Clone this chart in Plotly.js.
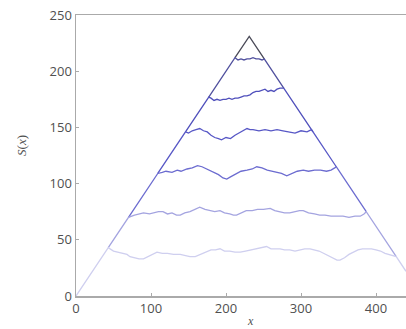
<!DOCTYPE html>
<html><head><meta charset="utf-8">
<script src="https://cdn.plot.ly/plotly-3.0.1.min.js"></script>
<style>html,body{margin:0;padding:0;background:#fff}#chart{width:406px;height:329px}</style>
</head><body><div id="chart"></div>
<script>
// Outer triangle (start, peak, end)
const triangleX = [0, 231, 440];
const triangleY = [0, 231, 22];

// Plateau levels (top -> bottom); first/last points lie on the triangle edges
const level1X = [212, 216, 220, 224, 228, 232, 236, 240, 244, 248, 251];
const level1Y = [212, 210, 211, 210, 211, 211, 212, 211, 211, 210, 211];

const level2X = [177, 180, 184, 188, 192, 196, 200, 204, 208, 212, 216, 220, 224, 228, 232, 236, 240, 244, 248, 252, 256, 260, 264, 268, 272, 277];
const level2Y = [177, 176, 174, 175, 174, 175, 175, 176, 175, 176, 176, 177, 178, 178, 179, 181, 182, 182, 183, 184, 182, 183, 182, 184, 185, 185];

const level3X = [146, 150, 155, 160, 165, 170, 175, 180, 185, 190, 194, 200, 206, 212, 218, 224, 228, 232, 236, 244, 252, 260, 268, 276, 284, 292, 300, 308, 314, 316];
const level3Y = [146, 145, 147, 148, 149, 147, 146, 143, 141, 140, 139, 141, 140, 143, 145, 147, 149, 148, 148, 147, 148, 147, 148, 147, 146, 145, 147, 146, 148, 146];

const level4X = [109, 115, 120, 128, 135, 140, 148, 155, 162, 168, 175, 182, 190, 196, 201, 206, 212, 220, 228, 235, 241, 248, 255, 262, 268, 274, 281, 288, 295, 303, 310, 318, 326, 334, 340, 345, 347];
const level4Y = [109, 110, 111, 110, 112, 111, 113, 114, 116, 115, 113, 111, 108, 105, 104, 106, 108, 111, 112, 113, 115, 114, 112, 111, 110, 109, 107, 109, 111, 112, 111, 112, 112, 111, 112, 114, 115];

const level5X = [70, 78, 85, 90, 98, 105, 110, 116, 122, 128, 134, 139, 145, 152, 158, 165, 172, 178, 185, 192, 198, 205, 210, 214, 220, 227, 235, 242, 250, 259, 265, 272, 278, 285, 292, 298, 303, 310, 318, 325, 332, 340, 348, 356, 364, 372, 379, 384, 387];
const level5Y = [70, 72, 73, 74, 73, 74, 75, 75, 73, 74, 72, 72, 74, 75, 77, 79, 77, 76, 75, 76, 74, 73, 72, 72, 74, 76, 76, 77, 77, 78, 76, 75, 74, 74, 75, 76, 76, 74, 73, 72, 72, 71, 71, 71, 70, 71, 71, 73, 75];

const level6X = [43, 50, 56, 62, 68, 72, 78, 84, 90, 96, 102, 108, 115, 122, 130, 139, 146, 152, 159, 166, 174, 180, 186, 192, 198, 205, 212, 219, 226, 233, 240, 247, 254, 260, 266, 272, 278, 285, 292, 298, 305, 312, 318, 324, 330, 336, 342, 348, 352, 358, 364, 370, 376, 382, 388, 394, 400, 406, 412, 418, 424, 427];
const level6Y = [43, 40, 39, 38, 37, 35, 34, 33, 33, 35, 37, 39, 38, 38, 37, 37, 36, 35, 35, 37, 39, 41, 41, 42, 40, 40, 39, 39, 40, 41, 42, 43, 44, 42, 42, 42, 41, 41, 40, 41, 42, 42, 41, 40, 38, 36, 34, 32, 32, 34, 37, 39, 41, 42, 42, 42, 41, 40, 38, 37, 36, 35];

const triangleColor = '#4a4a58';
const levelColors = ['#50509e', '#5050bc', '#5858c6', '#6c6cd0', '#a4a4e0', '#cfcfef'];
const levels = [[level1X, level1Y], [level2X, level2Y], [level3X, level3Y], [level4X, level4Y], [level5X, level5Y], [level6X, level6Y]];

// Each curve runs along the triangle edges only between the lower level's ends and its own plateau.
const traces = [];
traces.push({
  x: [level1X[0], triangleX[1], level1X[level1X.length - 1]],
  y: [level1Y[0], triangleY[1], level1Y[level1Y.length - 1]],
  mode: 'lines', type: 'scatter', line: {color: triangleColor, width: 1.3}, hoverinfo: 'skip'
});
levels.forEach(function (lv, i) {
  let sx, sy, ex, ey;
  if (i < levels.length - 1) {
    const below = levels[i + 1];
    sx = below[0][0]; sy = below[1][0];
    ex = below[0][below[0].length - 1]; ey = below[1][below[1].length - 1];
  } else {
    sx = triangleX[0]; sy = triangleY[0];
    ex = triangleX[2]; ey = triangleY[2];
  }
  traces.push({
    x: [sx].concat(lv[0], [ex]),
    y: [sy].concat(lv[1], [ey]),
    mode: 'lines', type: 'scatter',
    line: {color: levelColors[i], width: 1.3}, hoverinfo: 'skip'
  });
});

const axisCommon = {
  showgrid: false, zeroline: false, showline: true, linecolor: '#aaaaaa', linewidth: 1.5,
  mirror: true, ticks: 'inside', ticklen: 3, tickcolor: '#aaaaaa',
  tickfont: {family: 'Open Sans, sans-serif', size: 13, color: '#505050'}
};

const layout = {
  width: 406, height: 329,
  margin: {l: 76, r: 0, t: 15, b: 33},
  paper_bgcolor: '#ffffff', plot_bgcolor: '#ffffff',
  showlegend: false,
  xaxis: Object.assign({}, axisCommon, {range: [0, 440], tickvals: [0, 100, 200, 300, 400]}),
  yaxis: Object.assign({}, axisCommon, {range: [0, 250], tickvals: [0, 50, 100, 150, 200, 250]}),
  annotations: [
    {text: '<i>x</i>', xref: 'paper', yref: 'paper', x: 0.530, y: -0.0907, showarrow: false, borderpad: 0,
     xanchor: 'center', yanchor: 'middle', font: {family: 'Liberation Serif, serif', size: 12, color: '#505050'}},
    {text: '<i>S</i>(<i>x</i>)', xref: 'paper', yref: 'paper', x: -0.1636, y: 0.534, showarrow: false, textangle: -90,
     xanchor: 'center', yanchor: 'middle', font: {family: 'Liberation Serif, serif', size: 13, color: '#505050'}}
  ]
};

Plotly.newPlot('chart', traces, layout, {displayModeBar: false, staticPlot: true});
</script></body></html>
